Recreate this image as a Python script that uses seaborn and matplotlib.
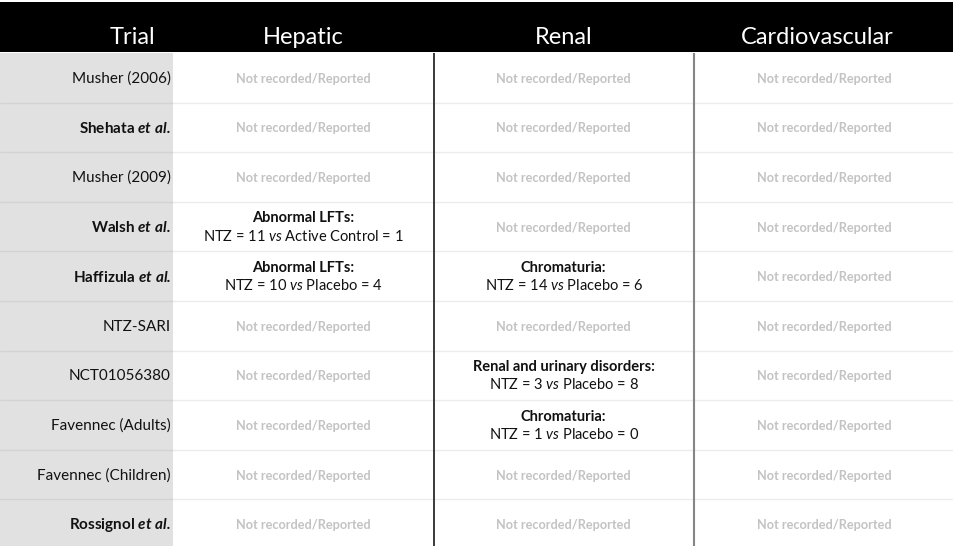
import numpy as np
import seaborn as sns
import matplotlib.pyplot as plt
from matplotlib.colors import ListedColormap

# ---------- Table content ----------
HEADERS = ["Trial", "Hepatic", "Renal", "Cardiovascular"]
TRIALS = [
    "Musher (2006)", "Shehata et al.", "Musher (2009)", "Walsh et al.",
    "Haffizula et al.", "NTZ-SARI", "NCT01056380", "Favennec (Adults)",
    "Favennec (Children)", "Rossignol et al.",
]
HEPATIC = [
    None, None, None,
    ("Abnormal LFTs:", "NTZ = 11 vs Active Control = 1"),
    ("Abnormal LFTs:", "NTZ = 10 vs Placebo = 4"),
    None, None, None, None, None,
]
RENAL = [
    None, None, None, None,
    ("Chromaturia:", "NTZ = 14 vs Placebo = 6"),
    None,
    ("Renal and urinary disorders:", "NTZ = 3 vs Placebo = 8"),
    ("Chromaturia:", "NTZ = 1 vs Placebo = 0"),
    None, None,
]
CARDIO = [None] * 10
EMPTY_TEXT = "Not recorded/Reported"

# column widths in grid units (trial column narrower)
COL_UNITS = [2, 3, 3, 3]


def fmt_trial(name):
    if name.endswith(" et al."):
        return name[:-7] + r" $\mathbfit{et\ al.}$", "bold"
    return name, "normal"


def fmt_vs(s):
    return s.replace(" vs ", r" $\mathit{vs}$ ")


def main():
    sns.set_style("white")
    plt.rcParams["font.family"] = ["Lato", "DejaVu Sans"]
    plt.rcParams.update({
        "mathtext.fontset": "custom",
        "mathtext.rm": "Lato",
        "mathtext.it": "Lato:italic",
        "mathtext.bf": "Lato:bold",
        "mathtext.bfit": "Lato:bold:italic",
    })

    W, H = 954, 546
    fig = plt.figure(figsize=(W / 100, H / 100), dpi=100, facecolor="white")

    # body: cell kinds (0 = trial column, 1 = data column), expanded to grid units
    kinds = np.repeat(np.array([[0, 1, 1, 1]] * len(TRIALS)), COL_UNITS, axis=1)
    ax = fig.add_axes([0, (H - 549) / H, 1, (549 - 53) / H])
    sns.heatmap(kinds, cmap=ListedColormap(["#e1e1e1", "#ffffff"]), cbar=False,
                xticklabels=False, yticklabels=False, ax=ax)
    ax.set_axis_off()

    edges = np.cumsum([0] + COL_UNITS)
    centers = (edges[:-1] + edges[1:]) / 2
    n = len(TRIALS)

    for r in range(1, n):
        ax.hlines(r, edges[0], edges[1], color="#d3d3d3", lw=1)
        ax.hlines(r, edges[1], edges[-1], color="#ececec", lw=1)
    ax.vlines(edges[2], 0, n, color="#2b2b2b", lw=1.3)
    ax.vlines(edges[3], 0, n, color="#858585", lw=1.5)

    for r, name in enumerate(TRIALS):
        label, weight = fmt_trial(name)
        ax.text(edges[1] - 0.03, r + 0.52, label, ha="right", va="center",
                fontsize=11, fontweight=weight, color="#111111")

    for c, col in enumerate([HEPATIC, RENAL, CARDIO], start=1):
        for r, cell in enumerate(col):
            if cell is None:
                ax.text(centers[c], r + 0.52, EMPTY_TEXT, ha="center", va="center",
                        fontsize=9.2, fontweight="bold", color="#c3c3c3")
            else:
                title, line = cell
                ax.text(centers[c], r + 0.33, title, ha="center", va="center",
                        fontsize=10.5, fontweight="bold", color="#111111")
                ax.text(centers[c], r + 0.69, fmt_vs(line), ha="center", va="center",
                        fontsize=10.5, color="#111111")

    # header band
    hx = fig.add_axes([0, (H - 52) / H, 1, 50 / H])
    hx.set_facecolor("black")
    hx.set_xlim(edges[0], edges[-1])
    hx.set_ylim(0, 1)
    hx.set_xticks([])
    hx.set_yticks([])
    for s in hx.spines.values():
        s.set_visible(False)
    head_x = [1.53, centers[1], centers[2], centers[3] - 0.08]
    for x, h in zip(head_x, HEADERS):
        hx.text(x, 0.3, h, ha="center", va="center", fontsize=17, color="white")

    fig.savefig("out.png", dpi=100, facecolor="white")
    plt.close(fig)


if __name__ == "__main__":
    main()
